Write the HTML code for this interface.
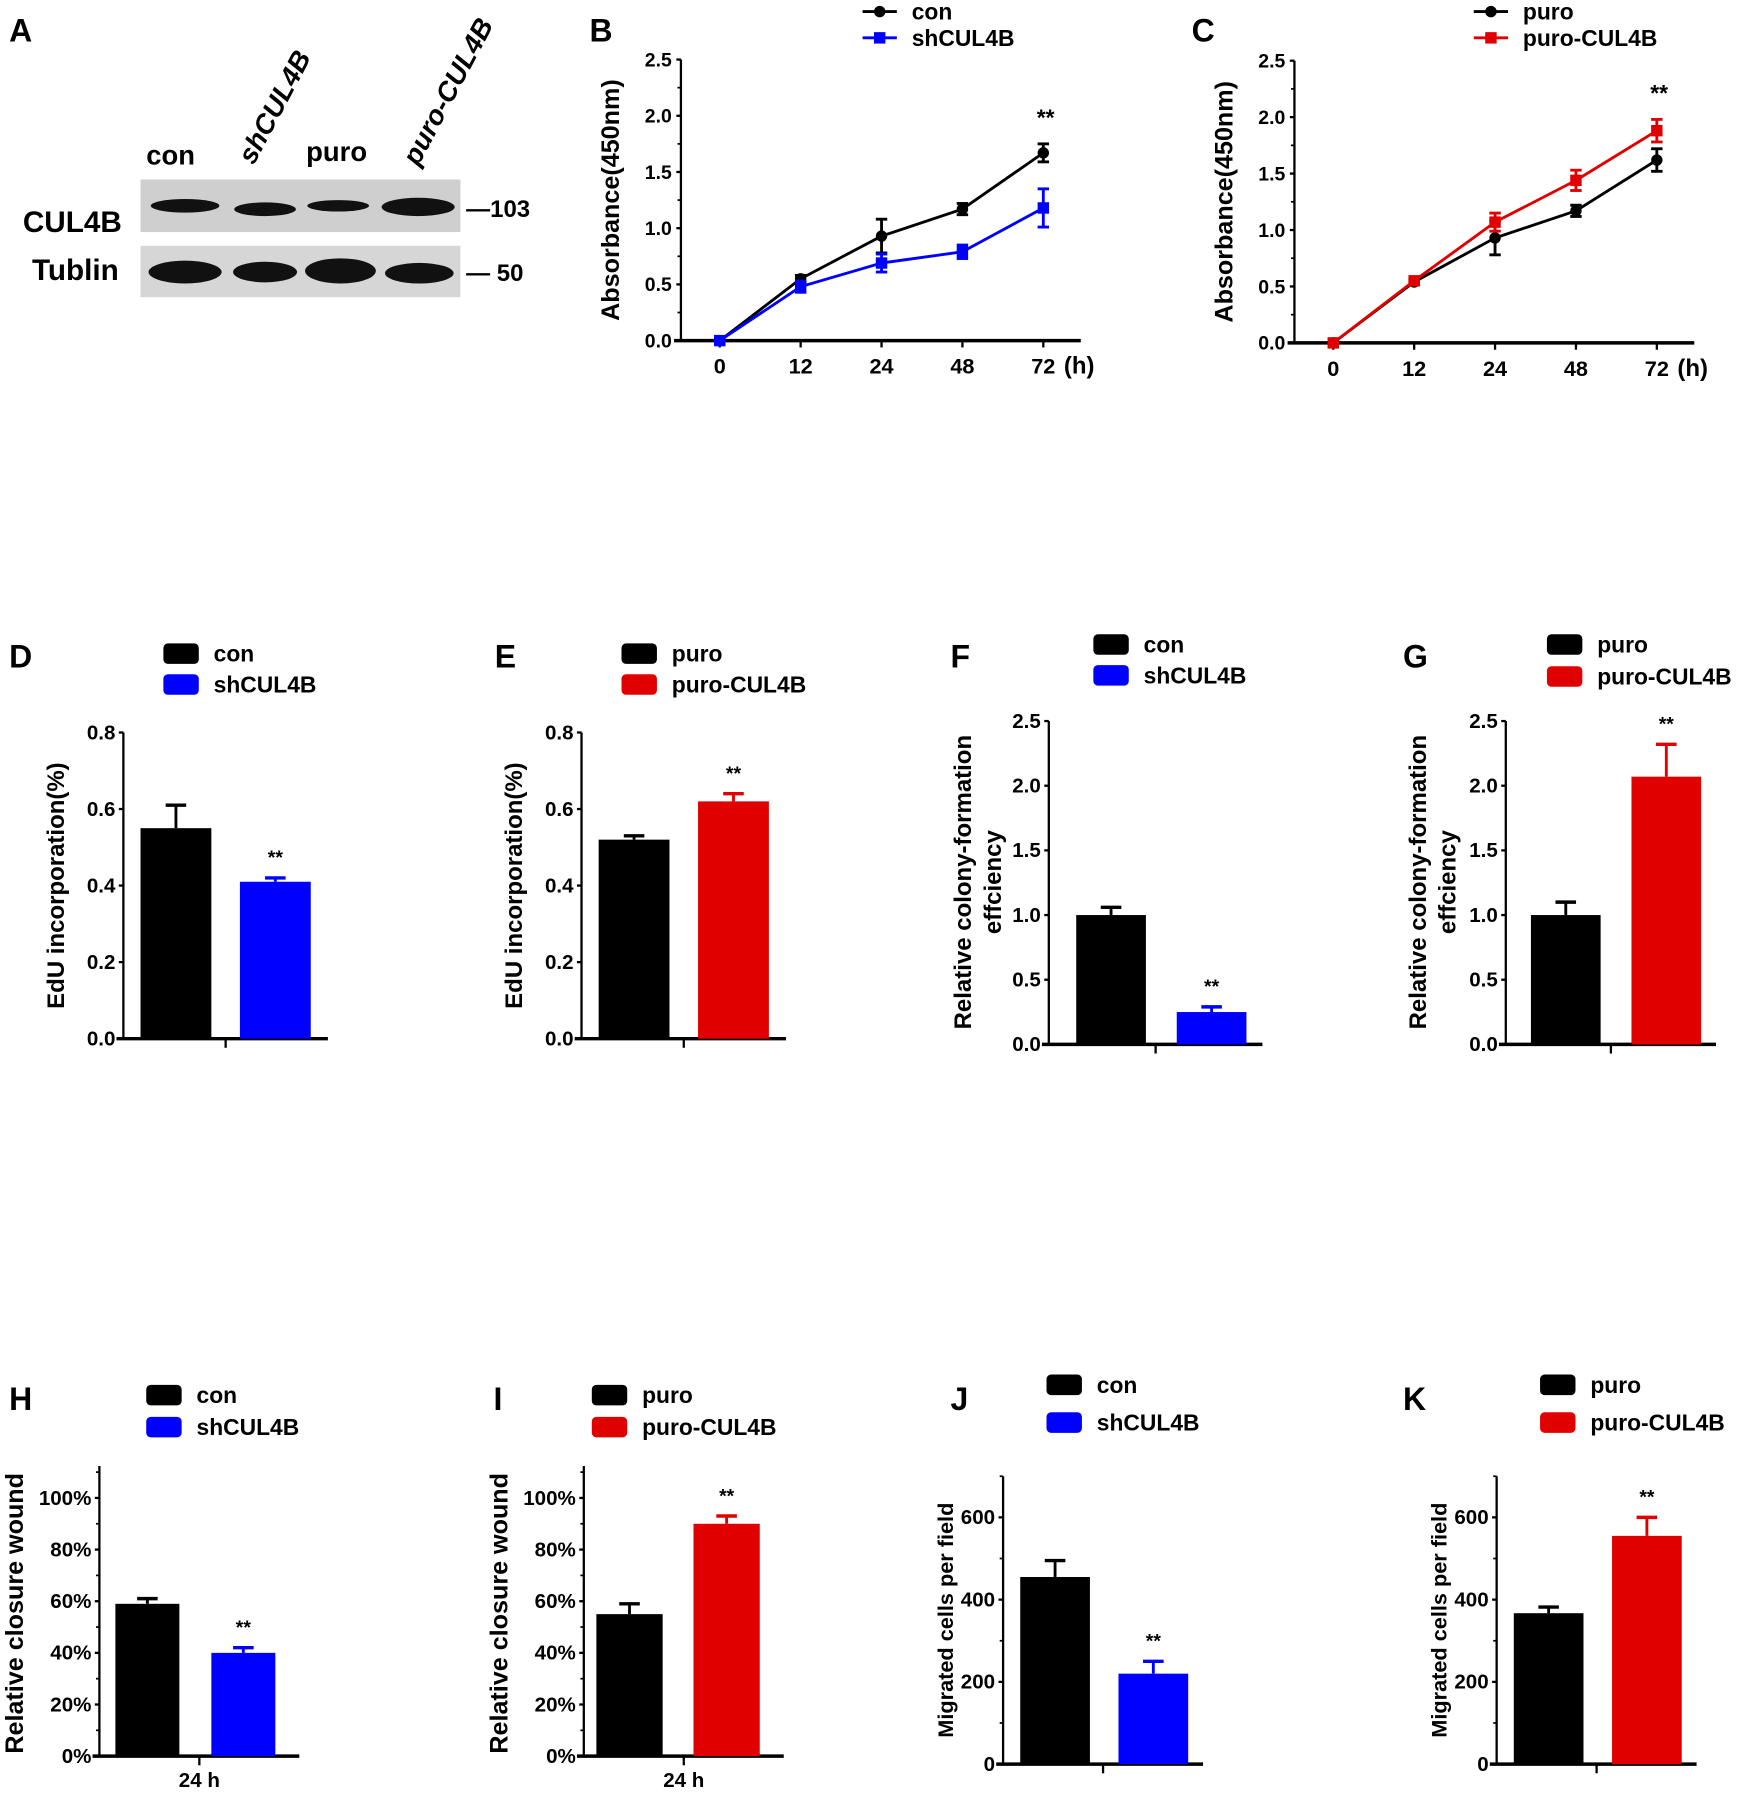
<!DOCTYPE html>
<html><head><meta charset="utf-8"><style>
html,body{margin:0;padding:0;background:#fff}
svg{display:block}
text{font-family:"Liberation Sans",Arial,sans-serif;font-weight:bold;fill:#000}
</style></head><body>
<svg id="fig" width="1748" height="1794" viewBox="0 0 1530 1570" xmlns="http://www.w3.org/2000/svg">
<g>
<text x="8" y="36" font-size="28">A</text>
<text x="128" y="144" font-size="24">con</text>
<text x="0" y="0" font-size="24" font-style="italic" transform="translate(222,145) rotate(-62)">shCUL4B</text>
<text x="268" y="141" font-size="24">puro</text>
<text x="0" y="0" font-size="24" font-style="italic" transform="translate(366,146) rotate(-62)">puro-CUL4B</text>
<rect x="123" y="157" width="280" height="46" fill="#cfcfcf"/>
<rect x="123" y="215" width="280" height="45" fill="#d6d6d6"/>
<g fill="#111">
<ellipse cx="162" cy="180" rx="30" ry="6"/>
<ellipse cx="232" cy="183" rx="27" ry="6"/>
<ellipse cx="296" cy="180" rx="27" ry="5"/>
<ellipse cx="366" cy="181" rx="32" ry="8"/>
<ellipse cx="162" cy="238" rx="32" ry="10"/>
<ellipse cx="232" cy="238" rx="28" ry="9"/>
<ellipse cx="298" cy="237" rx="31" ry="11"/>
<ellipse cx="367" cy="239" rx="30" ry="9"/>
</g>
<text x="20" y="203" font-size="26">CUL4B</text>
<text x="28" y="245" font-size="26">Tublin</text>
<text x="408" y="190" font-size="21">—103</text>
<text x="408" y="246" font-size="21">— 50</text>
</g>
</svg>
<script>
var NS='http://www.w3.org/2000/svg';
var svg=document.getElementById('fig');
function mk(tag,attrs,parent,txt){var e=document.createElementNS(NS,tag);for(var k in attrs)e.setAttribute(k,attrs[k]);if(txt!==undefined)e.textContent=txt;(parent||svg).appendChild(e);return e;}

// ---- Line chart data (B, C) ----
var timeLabels=['0','12','24','48','72'];
var yTicksB=['0.0','0.5','1.0','1.5','2.0','2.5'];
var conVals=[0,0.55,0.93,1.17,1.67];
var conErr=[0.02,0.03,0.15,0.05,0.08];
var shVals=[0,0.48,0.69,0.79,1.18];
var shErr=[0.02,0.05,0.08,0.06,0.17];
var puroVals=[0,0.54,0.93,1.17,1.62];
var puroErr=[0.02,0.02,0.15,0.05,0.10];
var puroCVals=[0,0.55,1.07,1.44,1.88];
var puroCErr=[0.02,0.02,0.08,0.09,0.10];

// ---- Bar chart data ----
var edTicks=['0.0','0.2','0.4','0.6','0.8'];
var dVals=[0.55,0.41], dErr=[0.06,0.01];
var eVals=[0.52,0.62], eErr=[0.01,0.02];
var colTicks=['0.0','0.5','1.0','1.5','2.0','2.5'];
var fVals=[1.0,0.25], fErr=[0.06,0.04];
var gVals=[1.0,2.07], gErr=[0.10,0.25];
var woundTicks=['0%','20%','40%','60%','80%','100%'];
var hVals=[59,40], hErr=[2,2];
var iVals=[55,90], iErr=[4,3];
var migTicks=['0','200','400','600'];
var jVals=[455,220], jErr=[40,30];
var kVals=[367,555], kErr=[15,45];

var BLUE='#0000ff', RED='#e00000';

function lineChart(o){
  var g=mk('g',{});  
  var x0=o.ax, y0=o.y0, yTop=o.yTop, max=2.5;
  function ys(v){return y0-(v/max)*(y0-yTop);}
  function xs(i){return o.x0+i*o.dx;}
  var t=mk('text',{x:o.letterX,y:36,'font-size':28},g,o.letter);
   
  var ya=mk('line',{x1:x0,y1:yTop,x2:x0,y2:y0,stroke:'#000','stroke-width':2},g);
   
  var xa=mk('line',{x1:x0-6,y1:y0,x2:x0+350,y2:y0,stroke:'#000','stroke-width':3},g);
   
  yTicksB.forEach(function(l,i){var v=parseFloat(l),y=ys(v);
    mk('line',{x1:x0-4,y1:y,x2:x0,y2:y,stroke:'#000','stroke-width':2},g);
    var tt=mk('text',{x:x0-8,y:y+6,'font-size':17,'text-anchor':'end'},g,l);
     
    if(i<yTicksB.length-1){mk('line',{x1:x0-3,y1:ys(v+0.25),x2:x0,y2:ys(v+0.25),stroke:'#000','stroke-width':1.5},g);}
  });
  timeLabels.forEach(function(l,i){var x=xs(i);
    mk('line',{x1:x,y1:y0,x2:x,y2:y0+6,stroke:'#000','stroke-width':2},g);
    var tt=mk('text',{x:x,y:y0+29,'font-size':19,'text-anchor':'middle'},g,l);
     
  });
  var hh=mk('text',{x:xs(4)+18,y:y0+29,'font-size':21},g,'(h)');
   
  var yt=mk('text',{x:0,y:0,'font-size':22,'font-weight':'normal','text-anchor':'middle',transform:'translate('+(x0-54)+','+((y0+yTop)/2)+') rotate(-90)'},g,'Absorbance(450nm)');
   
  o.series.forEach(function(s,si){
    var pts=s.vals.map(function(v,i){return xs(i)+','+ys(v);}).join(' ');
    var pl=mk('polyline',{points:pts,fill:'none',stroke:s.color,'stroke-width':2.5},g);
     
    s.vals.forEach(function(v,i){var x=xs(i),e=s.err[i];
      mk('line',{x1:x,y1:ys(v+e),x2:x,y2:ys(v-e),stroke:s.color,'stroke-width':2.5},g);
      mk('line',{x1:x-5,y1:ys(v+e),x2:x+5,y2:ys(v+e),stroke:s.color,'stroke-width':2.5},g);
      mk('line',{x1:x-5,y1:ys(v-e),x2:x+5,y2:ys(v-e),stroke:s.color,'stroke-width':2.5},g);
      var m;
      if(s.shape==='c'){m=mk('circle',{cx:x,cy:ys(v),r:5,fill:s.color},g);}
      else{m=mk('rect',{x:x-5,y:ys(v)-5,width:10,height:10,fill:s.color},g);}
       
    });
    var ly=o.legY+si*23, lx=o.legX;
    var ll=mk('line',{x1:lx,y1:ly,x2:lx+30,y2:ly,stroke:s.color,'stroke-width':2.5},g);
     
    if(s.shape==='c')mk('circle',{cx:lx+15,cy:ly,r:5,fill:s.color},g); else mk('rect',{x:lx+10,y:ly-5,width:10,height:10,fill:s.color},g);
    var lt=mk('text',{x:lx+43,y:ly+7,'font-size':20},g,s.label);
     
  });
  var st=o.series[1];
  var sg=mk('text',{x:xs(4)+2,y:ys(st.vals[4]>o.series[0].vals[4]?st.vals[4]+st.err[4]:o.series[0].vals[4]+o.series[0].err[4])-16,'font-size':20,'text-anchor':'middle'},g,'**');
   
}

lineChart({name:'panel-b-chart',letter:'B',letterX:516,ax:596,y0:298,yTop:52,x0:630,dx:70.8,legX:755,legY:10,
  series:[{key:'con',label:'con',vals:conVals,err:conErr,color:'#000',shape:'c'},{key:'shcul4b',label:'shCUL4B',vals:shVals,err:shErr,color:BLUE,shape:'s'}]});
lineChart({name:'panel-c-chart',letter:'C',letterX:1043,ax:1133,y0:300,yTop:53,x0:1167,dx:70.8,legX:1290,legY:10,
  series:[{key:'puro',label:'puro',vals:puroVals,err:puroErr,color:'#000',shape:'c'},{key:'puro-cul4b',label:'puro-CUL4B',vals:puroCVals,err:puroCErr,color:RED,shape:'s'}]});

function barChart(o){
  var g=mk('g',{});  
  var ax=o.ax,y0=o.y0;
  var tickVals=o.ticks.map(function(l){return parseFloat(l);});
  var tMax=tickVals[tickVals.length-1];
  var pxPer=(y0-o.yTopTick)/tMax;
  function ys(v){return y0-v*pxPer;}
  var t=mk('text',{x:o.letterX,y:o.letterY,'font-size':28},g,o.letter);
   
  var yTopAxis=o.yAxisTop!==undefined?o.yAxisTop:o.yTopTick;
  var ya=mk('line',{x1:ax,y1:yTopAxis,x2:ax,y2:y0,stroke:'#000','stroke-width':2},g);
   
  var xa=mk('line',{x1:ax-6,y1:y0,x2:ax+o.axLen,y2:y0,stroke:'#000','stroke-width':3},g);
   
  var cx=ax+o.axLen/2;
  mk('line',{x1:cx,y1:y0,x2:cx,y2:y0+8,stroke:'#000','stroke-width':2},g);
  if(o.xLabel){var xl=mk('text',{x:cx,y:y0+27,'font-size':18,'text-anchor':'middle'},g,o.xLabel);
     }
  o.ticks.forEach(function(l,i){var y=ys(tickVals[i]);
    mk('line',{x1:ax-4,y1:y,x2:ax,y2:y,stroke:'#000','stroke-width':2},g);
    var tt=mk('text',{x:ax-7,y:y+6,'font-size':18,'text-anchor':'end'},g,l);
     
  });
  if(o.minor){for(var v=o.minor;v<tMax+o.minor*1.5;v+=o.minor){var y=ys(v);if(y<yTopAxis-1)break;mk('line',{x1:ax-3,y1:y,x2:ax,y2:y,stroke:'#000','stroke-width':1.5},g);}}
  var tl=o.title;
  tl.forEach(function(line,li){
    var yt=mk('text',{x:0,y:0,'font-size':o.titleSize||20,'font-weight':'normal','text-anchor':'middle',transform:'translate('+(o.titleX+li*26)+','+o.titleY+') rotate(-90)'},g,line);
     
  });
  var colors=['#000',o.color];
  o.vals.forEach(function(v,i){
    var bx=ax+o.barOff+i*o.barStep, w=o.barW;
    var r=mk('rect',{x:bx,y:ys(v),width:w,height:y0-ys(v),fill:colors[i]},g);
     
    var e=o.err[i],mx=bx+w/2;
    mk('line',{x1:mx,y1:ys(v),x2:mx,y2:ys(v+e),stroke:colors[i],'stroke-width':2.5},g);
    mk('line',{x1:mx-9,y1:ys(v+e),x2:mx+9,y2:ys(v+e),stroke:colors[i],'stroke-width':3},g);
    if(i===1){var s=mk('text',{x:mx,y:ys(v+e)-12,'font-size':17,'text-anchor':'middle','font-weight':'normal'},g,'**');
       }
  });
  o.labels.forEach(function(l,i){
    var ly=o.legY+i*o.legStep;
    var lr=mk('rect',{x:o.legX,y:ly-9,width:31,height:18,rx:4,fill:colors[i]},g);
     
    var lt=mk('text',{x:o.legX+44,y:ly+7,'font-size':20},g,l);
     
  });
}

var edT=['EdU incorporation(%)'];
barChart({name:'panel-d-chart',letter:'D',letterX:8,letterY:584,ax:108,y0:909,yTopTick:641,axLen:179,barOff:15,barStep:87,barW:62,
  ticks:edTicks,vals:dVals,err:dErr,color:BLUE,labels:['con','shCUL4B'],legX:143,legY:572,legStep:27,title:edT,titleX:56,titleY:775,titleSize:21});
barChart({name:'panel-e-chart',letter:'E',letterX:433,letterY:584,ax:509,y0:909,yTopTick:641,axLen:179,barOff:15,barStep:87,barW:62,
  ticks:edTicks,vals:eVals,err:eErr,color:RED,labels:['puro','puro-CUL4B'],legX:544,legY:572,legStep:27,title:edT,titleX:457,titleY:775,titleSize:21});
var colT=['Relative colony-formation','effciency'];
barChart({name:'panel-f-chart',letter:'F',letterX:832,letterY:584,ax:918,y0:914,yTopTick:631,axLen:187,barOff:24,barStep:88,barW:61,
  ticks:colTicks,vals:fVals,err:fErr,color:BLUE,labels:['con','shCUL4B'],legX:957,legY:564,legStep:27,title:colT,titleX:850,titleY:772,titleSize:21});
barChart({name:'panel-g-chart',letter:'G',letterX:1228,letterY:584,ax:1318,y0:914,yTopTick:631,axLen:184,barOff:22,barStep:88,barW:61,
  ticks:colTicks,vals:gVals,err:gErr,color:RED,labels:['puro','puro-CUL4B'],legX:1354,legY:564,legStep:28,title:colT,titleX:1248,titleY:772,titleSize:21});
var wT=['Relative closure wound'];
barChart({name:'panel-h-chart',letter:'H',letterX:8,letterY:1234,ax:87,y0:1537,yTopTick:1311,yAxisTop:1283,axLen:175,barOff:14,barStep:84,barW:56,minor:10,
  ticks:woundTicks,vals:hVals,err:hErr,color:BLUE,labels:['con','shCUL4B'],legX:128,legY:1221,legStep:28,title:wT,titleX:20,titleY:1412,titleSize:22,xLabel:'24 h'});
barChart({name:'panel-i-chart',letter:'I',letterX:432,letterY:1234,ax:511,y0:1537,yTopTick:1311,yAxisTop:1283,axLen:175,barOff:11,barStep:85,barW:58,minor:10,
  ticks:woundTicks,vals:iVals,err:iErr,color:RED,labels:['puro','puro-CUL4B'],legX:518,legY:1221,legStep:28,title:wT,titleX:444,titleY:1412,titleSize:22,xLabel:'24 h'});
var mT=['Migrated cells per field'];
barChart({name:'panel-j-chart',letter:'J',letterX:832,letterY:1234,ax:878,y0:1544,yTopTick:1328,yAxisTop:1292,axLen:175,barOff:15,barStep:86,barW:61,minor:100,
  ticks:migTicks,vals:jVals,err:jErr,color:BLUE,labels:['con','shCUL4B'],legX:916,legY:1212,legStep:33,title:mT,titleX:834,titleY:1418,titleSize:19});
barChart({name:'panel-k-chart',letter:'K',letterX:1228,letterY:1234,ax:1310,y0:1544,yTopTick:1328,yAxisTop:1292,axLen:175,barOff:15,barStep:86,barW:61,minor:100,
  ticks:migTicks,vals:kVals,err:kErr,color:RED,labels:['puro','puro-CUL4B'],legX:1348,legY:1212,legStep:33,title:mT,titleX:1266,titleY:1418,titleSize:19});
</script>
</body></html>
